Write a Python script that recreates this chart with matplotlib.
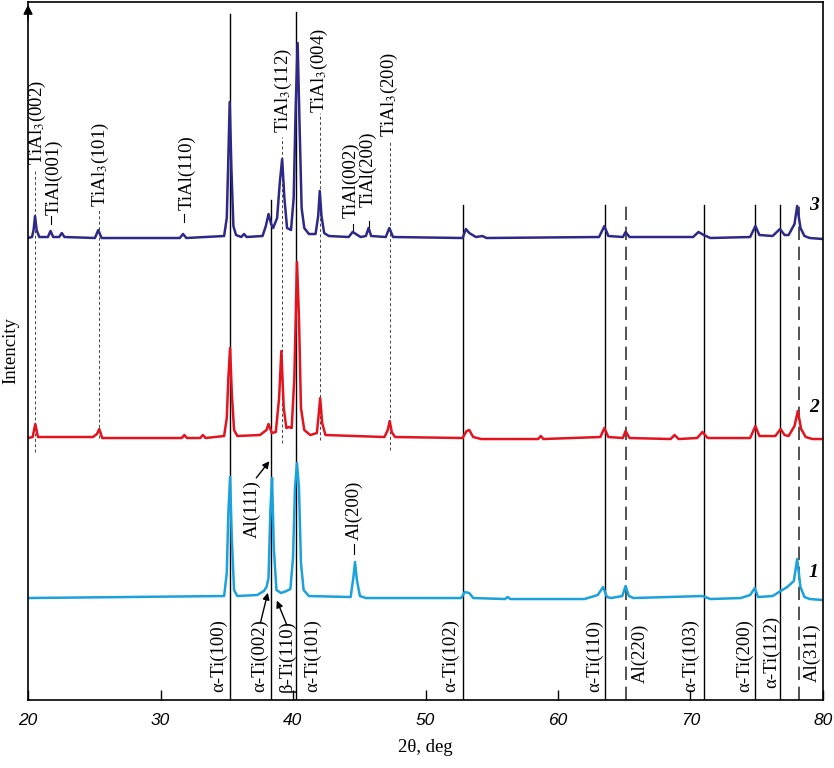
import matplotlib.pyplot as plt

plt.rcParams["font.family"] = ["Liberation Serif", "DejaVu Serif"]
plt.rcParams["mathtext.fontset"] = "stix"

# (2theta, intensity above own baseline)
curve1 = [(20.0, 0), (34.8, 2), (35.0, 25), (35.12, 85), (35.25, 121), (35.38, 60),
          (35.55, 8), (35.8, 2), (37.3, 3), (37.8, 7), (38.0, 11), (38.15, 20),
          (38.3, 90), (38.42, 120), (38.55, 50), (38.75, 8), (39.1, 5), (39.5, 7),
          (39.8, 9), (40.0, 40), (40.15, 110), (40.3, 135), (40.45, 110), (40.6, 35),
          (40.8, 8), (41.2, 2), (44.35, 1), (44.55, 20), (44.68, 36), (44.82, 18),
          (45.05, 2), (45.5, 0), (52.7, 0), (52.95, 6), (53.3, 5), (53.6, 0),
          (56.0, -1), (56.2, 1), (56.4, -1), (62.0, -1), (63.0, 3), (63.4, 11),
          (63.7, 1), (64.0, 0), (64.85, 2), (65.1, 12), (65.35, 2), (65.7, 0),
          (70.9, 2), (71.5, -1), (73.8, 0), (74.5, 3), (74.85, 10), (75.1, 1),
          (76.2, 2), (76.8, 7), (77.3, 11), (77.8, 17), (78.05, 39), (78.3, 11),
          (78.6, 1), (79.0, -1), (80.0, -2)]
curve2 = [(20.0, 0), (20.35, 1), (20.55, 14), (20.75, 1), (24.9, 1), (25.2, 4),
          (25.38, 9), (25.6, 0), (31.6, 0), (31.8, 3), (32.0, 0), (33.0, 0),
          (33.2, 3), (33.4, 0), (34.8, 2), (35.0, 20), (35.12, 60), (35.25, 90),
          (35.38, 45), (35.55, 8), (35.8, 2), (37.5, 3), (38.0, 8), (38.15, 14),
          (38.4, 5), (38.7, 6), (38.95, 40), (39.12, 87), (39.3, 30), (39.5, 10),
          (39.7, 11), (39.9, 10), (40.1, 60), (40.3, 176), (40.45, 120), (40.6, 30),
          (40.85, 8), (41.3, 3), (41.8, 5), (41.95, 25), (42.05, 40), (42.2, 15),
          (42.45, 3), (46.9, 1), (47.15, 8), (47.3, 17), (47.45, 6), (47.7, 1),
          (52.8, 0), (53.1, 7), (53.3, 8), (53.6, 1), (54.2, -1), (58.5, -1),
          (58.7, 2), (58.9, -1), (63.2, 1), (63.5, 10), (63.8, 1), (64.9, 0),
          (65.1, 7), (65.4, 0), (68.5, -1), (68.8, 3), (69.1, -1), (70.5, 0),
          (70.9, 6), (71.3, 0), (74.5, 0), (74.9, 12), (75.2, 2), (76.4, 2),
          (76.8, 9), (77.1, 3), (77.4, 2), (77.85, 12), (78.1, 27), (78.35, 9),
          (78.7, 1), (79.2, -1), (80.0, -1)]
curve3 = [(20.0, 0), (20.3, 1), (20.42, 8), (20.53, 22), (20.65, 8), (20.85, 1),
          (21.5, 1), (21.7, 7), (21.9, 1), (22.35, 1), (22.55, 5), (22.75, 1),
          (25.05, 0), (25.3, 8), (25.55, 0), (31.45, 0), (31.7, 4), (31.95, 0),
          (34.8, 2), (35.0, 20), (35.1, 70), (35.22, 136), (35.35, 70), (35.5, 12),
          (35.7, 3), (36.1, 1), (36.3, 4), (36.5, 1), (37.7, 2), (37.95, 12),
          (38.15, 24), (38.35, 14), (38.5, 10), (38.8, 20), (39.0, 55), (39.18, 79),
          (39.35, 40), (39.55, 10), (39.85, 8), (40.05, 40), (40.2, 130), (40.35, 195),
          (40.5, 110), (40.65, 30), (40.85, 10), (41.2, 4), (41.7, 4), (41.9, 22),
          (42.02, 47), (42.15, 22), (42.35, 5), (42.7, 2), (44.2, 1), (44.5, 6),
          (44.75, 4), (45.1, 1), (45.5, 2), (45.7, 10), (45.9, 2), (47.0, 1),
          (47.27, 10), (47.55, 1), (52.8, 0), (53.05, 9), (53.3, 5), (53.8, 1),
          (54.3, 2), (54.6, 0), (63.1, 1), (63.5, 12), (63.8, 2), (64.9, 1),
          (65.1, 6), (65.4, 1), (70.2, 1), (70.6, 6), (71.0, 3), (71.5, 0),
          (74.5, 1), (74.9, 12), (75.2, 3), (76.2, 2), (76.75, 9), (77.1, 3),
          (77.4, 3), (77.85, 14), (78.05, 32), (78.3, 10), (78.6, 2), (79.0, 0),
          (80.0, -1)]
curves = [curve1, curve2, curve3]
offsets = [102, 262, 462]
colors = ["#1ba1dc", "#e3141f", "#2e2987"]
names = ["1", "2", "3"]

ti_pos = [35.25, 38.35, 40.25, 52.85, 63.55, 71.0, 74.9, 76.75]
ti_top = [686, 500, 688, 495, 495, 495, 495, 495]
al_pos = [65.1, 78.2]
tial3_pos = [20.55, 25.35, 39.2, 42.05, 47.3]
tial3_span = [(248, 530), (262, 490), (257, 563), (260, 587), (250, 558)]
tial_pos = [21.75, 31.75, 44.55, 45.7]

top_labels = [("TiAl$_3$(002)", 20.68, 535), ("TiAl(001)", 21.95, 485),
              ("TiAl$_3$(101)", 25.45, 493), ("TiAl(110)", 32.0, 490),
              ("TiAl$_3$(112)", 39.25, 567), ("TiAl$_3$(004)", 41.96, 587),
              ("TiAl(002)", 44.4, 482), ("TiAl(200)", 45.66, 493),
              ("TiAl$_3$(200)", 47.3, 563)]
bottom_labels = [("α-Ti(100)", 34.4, 8), ("α-Ti(002)", 37.5, 8), ("β-Ti(110)", 39.55, 8),
                 ("α-Ti(101)", 41.45, 8), ("α-Ti(102)", 51.9, 8), ("α-Ti(110)", 62.75, 8),
                 ("Al(220)", 66.2, 17), ("α-Ti(103)", 70.0, 8), ("α-Ti(200)", 74.1, 8),
                 ("α-Ti(112)", 76.1, 12), ("Al(311)", 79.2, 18),
                 ("Al(111)", 36.9, 162), ("Al(200)", 44.6, 160)]

fig = plt.figure(figsize=(8.34, 7.68), dpi=100)
ax = fig.add_axes([0.0336, 0.0885, 0.9532, 0.9089])

for x, top in zip(ti_pos, ti_top):
    ax.plot([x, x], [0, top], color="black", lw=1.0, zorder=1)
for x in al_pos:
    ax.plot([x, x], [0, 495], color="#333333", lw=1.2, dashes=(8, 4), zorder=1)
for x, (y0, y1) in zip(tial3_pos, tial3_span):
    ax.plot([x, x], [y0, y1], color="#444444", lw=0.7, dashes=(3, 2.5), zorder=1)
for x, y in zip(tial_pos, [476, 478, 468, 471]):
    ax.plot([x, x], [y, y + 8], color="black", lw=0.8)
ax.plot([44.6, 44.6], [146, 156], color="black", lw=0.8)

for c, off, col, nm in zip(curves, offsets, colors, names):
    tt, ii = zip(*c)
    ax.plot(tt, [v + off for v in ii], color=col, lw=1.8, zorder=2)

for nm, y in zip(names, [128, 293, 495]):
    ax.text(79.3, y, nm, fontsize=14, fontweight="bold", style="italic",
            ha="center", va="center")

for txt, x, y in top_labels + bottom_labels:
    ax.text(x, y, txt, rotation=90, ha="center", va="bottom", fontsize=13.5)

arr = dict(arrowstyle="-|>", color="black", lw=1.0, mutation_scale=10)
ax.annotate("", xy=(38.35, 241), xytext=(37.1, 220), arrowprops=arr)
ax.annotate("", xy=(38.15, 110), xytext=(37.5, 75), arrowprops=arr)
ax.annotate("", xy=(38.7, 102), xytext=(39.6, 73), arrowprops=arr)

ax.annotate("", xy=(0, 1.0), xycoords="axes fraction", xytext=(0, 0.97),
            arrowprops=dict(arrowstyle="-|>", color="black", lw=1.0, mutation_scale=14))

ax.set_xlim(20, 80)
ax.set_ylim(0, 698)
ax.set_yticks([])
ax.set_xticks([20, 30, 40, 50, 60, 70, 80])
ax.tick_params(axis="x", direction="in", length=7, width=1, pad=9)
plt.setp(ax.get_xticklabels(), family="Liberation Sans", style="italic", size=12.5)
for s in ax.spines.values():
    s.set_linewidth(1.2)
ax.set_xlabel("2θ, deg", fontsize=13.5, labelpad=8)
ax.set_ylabel("Intencity", fontsize=13.5, labelpad=6)

fig.savefig("out.png", dpi=100)
